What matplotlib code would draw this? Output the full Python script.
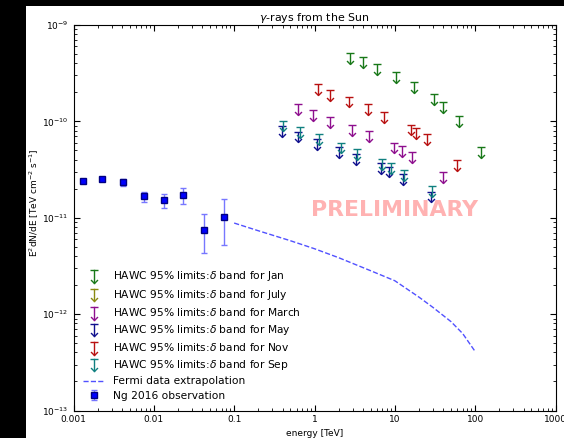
import matplotlib
matplotlib.use('Agg')
import matplotlib.pyplot as plt
import matplotlib.ticker as ticker
from matplotlib.patches import Rectangle
from matplotlib.lines import Line2D
from matplotlib.path import Path
from matplotlib.legend_handler import HandlerBase
import numpy as np

# HAWC 95% upper limits per month (energy in TeV, E^2 dN/dE)
jan_e = [2.79, 3.97, 6.03, 10.3, 17.4, 30.5, 39.8, 62.4, 118]
jan_ul = [5.16e-10, 4.63e-10, 3.94e-10, 3.28e-10, 2.57e-10, 1.94e-10, 1.60e-10, 1.13e-10, 5.41e-11]

july_e = []
july_ul = []

march_e = [0.63, 0.957, 1.57, 2.90, 4.71, 9.8, 12.3, 16.4, 39.8]
march_ul = [1.51e-10, 1.32e-10, 1.12e-10, 9.2e-11, 7.97e-11, 6.03e-11, 5.57e-11, 4.83e-11, 2.95e-11]

may_e = [0.392, 0.63, 1.06, 2.01, 3.28, 6.70, 8.49, 12.5, 28.6]
may_ul = [9.04e-11, 7.84e-11, 6.59e-11, 5.41e-11, 4.60e-11, 3.69e-11, 3.40e-11, 2.86e-11, 1.87e-11]

nov_e = [1.10, 1.57, 2.71, 4.66, 7.36, 15.8, 18.2, 24.8, 60.1]
nov_ul = [2.43e-10, 2.12e-10, 1.81e-10, 1.51e-10, 1.26e-10, 9.27e-11, 8.57e-11, 7.42e-11, 3.99e-11]

sep_e = [0.409, 0.661, 1.13, 2.12, 3.40, 6.95, 8.85, 13.1, 29.4]
sep_ul = [1.02e-10, 8.83e-11, 7.42e-11, 6.03e-11, 5.19e-11, 4.06e-11, 3.69e-11, 3.14e-11, 2.11e-11]

# Fermi extrapolation
fermi_e = [0.1, 0.2, 0.5, 1, 2, 5, 10, 20, 30, 50, 70, 100]
fermi_f = [8.81e-12, 7.33e-12, 5.78e-12, 4.77e-12, 3.85e-12, 2.82e-12, 2.22e-12,
           1.50e-12, 1.17e-12, 8.36e-13, 6.28e-13, 4.09e-13]

# Ng et al. 2016
ng_e = [0.00132, 0.00229, 0.00414, 0.00755, 0.0135, 0.0234, 0.0424, 0.0752]
ng_f = [2.42e-11, 2.52e-11, 2.36e-11, 1.68e-11, 1.54e-11, 1.73e-11, 7.51e-12, 1.02e-11]
ng_lo = [2.34e-11, 2.45e-11, 2.11e-11, 1.45e-11, 1.26e-11, 1.39e-11, 4.31e-12, 5.16e-12]
ng_hi = [2.50e-11, 2.60e-11, 2.54e-11, 1.87e-11, 1.76e-11, 2.03e-11, 1.09e-11, 1.56e-11]

# open "v" arrow head, tip at the origin
arrow = Path([(-1, 1), (0, 0), (1, 1)], [Path.MOVETO, Path.LINETO, Path.LINETO])


class UpperLimitHandler(HandlerBase):
    def __init__(self, color):
        super().__init__()
        self.color = color

    def create_artists(self, legend, orig_handle, xdescent, ydescent, width,
                       height, fontsize, trans):
        x = 0.5 * width - xdescent
        y0 = -0.45 * height - ydescent
        y1 = 1.25 * height - ydescent
        stem = Line2D([x, x], [y0, y1], color=self.color, lw=1)
        cap = Line2D([x], [y1], marker='_', ms=6, mew=1, color=self.color)
        head = Line2D([x], [y0], marker=arrow, ms=5, mew=1, mfc='none', mec=self.color)
        for a in (stem, cap, head):
            a.set_transform(trans)
        return [stem, cap, head]


W, H = 564, 438
fig = plt.figure(figsize=(W / 100, H / 100), dpi=100, facecolor='black')
fig.add_artist(Rectangle((26 / W, 0), 1, 1 - 6 / H, transform=fig.transFigure,
                         facecolor='white', edgecolor='none', zorder=-10))
ax = fig.add_axes([73.5 / W, 1 - 410.5 / H, 482 / W, 385.5 / H])

months = [('Jan', jan_e, jan_ul, '#187818'),
          ('July', july_e, july_ul, '#8a8a10'),
          ('March', march_e, march_ul, '#8e0e8e'),
          ('May', may_e, may_ul, '#10108e'),
          ('Nov', nov_e, nov_ul, '#b81010'),
          ('Sep', sep_e, sep_ul, '#108080')]

handles = []
hmap = {}
for name, e, ul, c in months:
    e = np.array(e, dtype=float)
    ul = np.array(ul, dtype=float)
    h = ax.errorbar(e, ul, yerr=0.23 * ul, uplims=np.ones(len(e), dtype=bool),
                    fmt='none', ecolor=c, elinewidth=1, capsize=3, capthick=1,
                    label='HAWC 95% limits:$\\delta$ band for ' + name)
    # swap the filled caret for an open arrow head
    for ln in h.lines[1]:
        if ln.get_marker() != '_':
            ln.set_marker(arrow)
            ln.set_markersize(5)
            ln.set_markerfacecolor('none')
            ln.set_markeredgecolor(c)
            ln.set_markeredgewidth(1)
    handles.append(h)
    hmap[h] = UpperLimitHandler(c)

fl, = ax.plot(fermi_e, fermi_f, '--', color='#3333ff', lw=1, alpha=0.85,
              label='Fermi data extrapolation')
handles.append(fl)

ng_f = np.array(ng_f)
yerr = [ng_f - np.array(ng_lo), np.array(ng_hi) - ng_f]
h = ax.errorbar(ng_e, ng_f, yerr=yerr, fmt='s', color='b', ms=5, mec='#000080',
                ecolor='#7777ff', elinewidth=1, capsize=2.5, capthick=1,
                label='Ng 2016 observation')
handles.append(h)

ax.set_xscale('log')
ax.set_yscale('log')
ax.set_xlim(1e-3, 1e3)
ax.set_ylim(1e-13, 1e-9)
ax.xaxis.set_major_formatter(ticker.FuncFormatter(lambda v, p: '%g' % v))
ax.tick_params(which='both', direction='in', top=True, right=True, labelsize=6.5)
ax.tick_params(which='major', length=4, width=0.8)
ax.tick_params(which='minor', length=2, width=0.6)

ax.set_title('$\\gamma$-rays from the Sun', fontsize=7.9, pad=3)
ax.set_xlabel('energy [TeV]', fontsize=6.5, labelpad=3)
ax.set_ylabel('E$^2$dN/dE [TeV cm$^{-2}$ s$^{-1}$]', fontsize=6.5)
ax.yaxis.set_label_coords(-0.068, 0.54)

ax.text(0.665, 0.52, 'PRELIMINARY', transform=ax.transAxes, fontsize=15.8,
        fontweight='bold', color='red', alpha=0.3, ha='center', va='center')

ax.legend(handles=handles, handler_map=hmap, loc='lower left',
          bbox_to_anchor=(0.0, 0.0), frameon=False, fontsize=7.7, numpoints=1,
          labelspacing=0.42, handlelength=2.0)

fig.savefig('out.png', dpi=100, facecolor=fig.get_facecolor())
